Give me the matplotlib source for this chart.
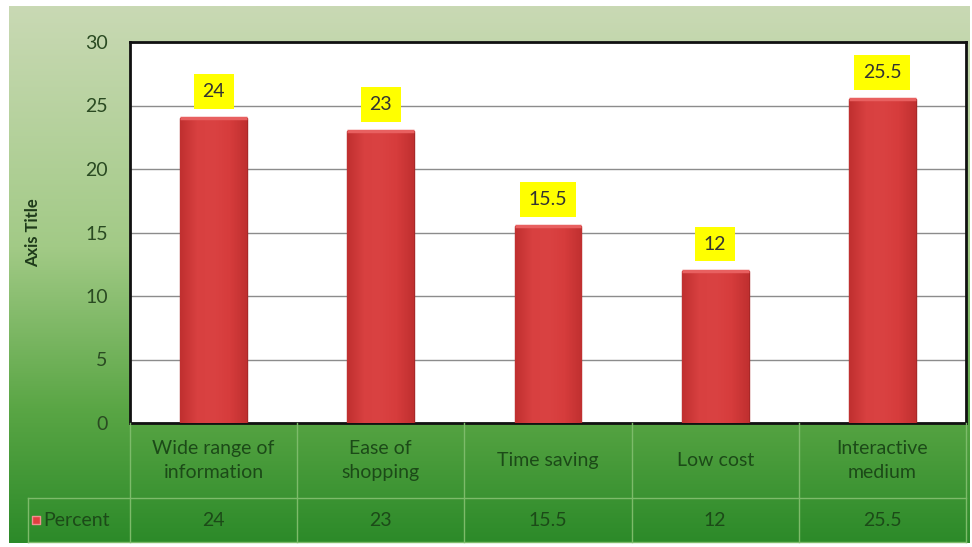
import numpy as np
import matplotlib
matplotlib.use("Agg")
import matplotlib.pyplot as plt
from matplotlib.colors import LinearSegmentedColormap

categories = ["Wide range of\ninformation", "Ease of\nshopping", "Time saving", "Low cost", "Interactive\nmedium"]
values = [24, 23, 15.5, 12, 25.5]
value_labels = ["24", "23", "15.5", "12", "25.5"]
series_name = "Percent"
yticks = [0, 5, 10, 15, 20, 25, 30]

W, H = 972, 547
plt.rcParams['font.family'] = ['Lato', 'DejaVu Sans']
fig = plt.figure(figsize=(W/100, H/100), dpi=100, facecolor='white')

# background gradient
bg = fig.add_axes([9/W, (H-543)/H, (969-9)/W, (543-6)/H])
bg_cmap = LinearSegmentedColormap.from_list('bg', [(0, '#c9d9b4'), (0.45, '#a2ca86'), (0.75, '#5aa645'), (1.0, '#2c8a29')])
grad = np.linspace(0, 1, 256).reshape(-1, 1)
bg.imshow(grad, aspect='auto', cmap=bg_cmap, extent=[0, 1, 0, 1], origin='upper')
bg.set_axis_off()

# main axes
L, R, T, B = 130, 966, 42, 423
ax = fig.add_axes([L/W, (H-B)/H, (R-L)/W, (B-T)/H])
ax.set_facecolor('white')
x = np.arange(len(values))
bars = ax.bar(x, values, width=0.4, color='#d63b3b', edgecolor='#a82828', linewidth=1.0, zorder=3)

# gradient fill on bars for a bevel look
bar_cmap = LinearSegmentedColormap.from_list('bar', ['#c03030', '#d84040', '#da4242', '#d63c3c', '#c03030'])
for b in bars:
    bx, by, bw, bh = b.get_x(), b.get_y(), b.get_width(), b.get_height()
    im = ax.imshow(np.linspace(0, 1, 64).reshape(1, -1), cmap=bar_cmap, aspect='auto',
                   extent=[bx, bx + bw, by, by + bh], zorder=3.5)
    im.set_clip_path(b)
    ax.plot([bx, bx + bw], [by + bh, by + bh], color='#e86060', lw=2.5, zorder=4, solid_capstyle='butt')

for xi, v, lab in zip(x, values, value_labels):
    ax.annotate(lab, (xi, v), xytext=(0, 13), textcoords='offset points', ha='center', va='bottom',
                fontsize=14, color='#333333', zorder=6,
                bbox=dict(boxstyle='square,pad=0.45', facecolor='#ffff00', edgecolor='none'))

ax.set_xlim(-0.5, len(values) - 0.5)
ax.set_ylim(0, 30)
ax.set_yticks(yticks)
ax.set_yticklabels([str(t) for t in yticks], fontsize=14, color='#2a4a22')
ax.set_xticks([])
ax.tick_params(axis='y', length=0, pad=16)
ax.yaxis.grid(True, color='#8c8c8c', lw=1, zorder=0)
ax.set_axisbelow(True)
for s in ax.spines.values():
    s.set_color('#111111')
    s.set_linewidth(2)
ax.set_ylabel('Axis Title', fontsize=12, fontweight='bold', color='#1e3a1a')
ax.yaxis.set_label_coords((41 - L) / (R - L), 0.5)

# data table axes
TB = 542
tab = fig.add_axes([L/W, (H-TB)/H, (R-L)/W, (TB-B)/H])
tab.set_xlim(-0.5, len(values) - 0.5)
tab.set_ylim(0, 1)
tab.set_axis_off()
px_per_unit = (R - L) / len(values)
left_x = -0.5 - (L - 28) / px_per_unit
split = (TB - 498) / (TB - B)
lc = '#7dbb6a'
for xv in np.arange(-0.5, len(values), 1.0):
    tab.plot([xv, xv], [0, 1], color=lc, lw=1, clip_on=False)
tab.plot([left_x, left_x], [0, split], color=lc, lw=1, clip_on=False)
tab.plot([left_x, len(values) - 0.5], [split, split], color=lc, lw=1, clip_on=False)
tab.plot([left_x, len(values) - 0.5], [0, 0], color=lc, lw=1, clip_on=False)

tc = '#1c4a18'
for xi, cat, lab in zip(x, categories, value_labels):
    tab.text(xi, (1 + split) / 2, cat, ha='center', va='center', fontsize=14, color=tc, linespacing=1.45)
    tab.text(xi, split / 2, lab, ha='center', va='center', fontsize=14, color=tc)
tab.scatter([left_x + 0.05], [split / 2], marker='s', s=40, color='#e04040', edgecolor='#f09090', clip_on=False)
tab.text(left_x + 0.09, split / 2, series_name, ha='left', va='center', fontsize=14, color=tc)

fig.savefig('out.png', dpi=100, facecolor='white')
